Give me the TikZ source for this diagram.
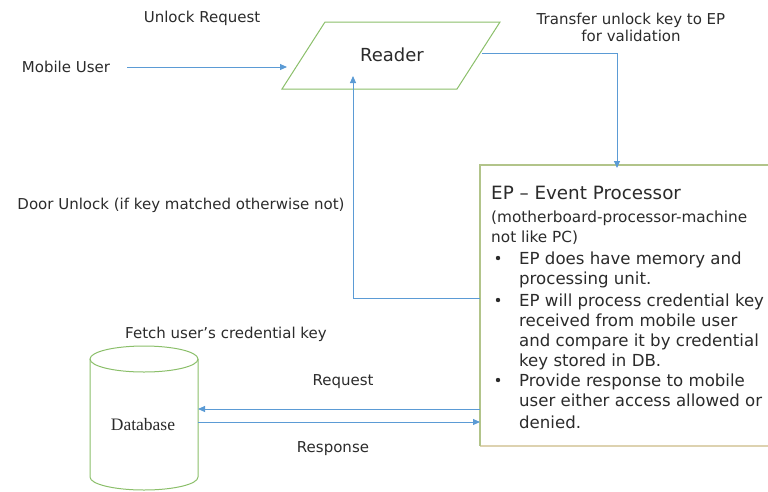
\documentclass[tikz,border=0pt]{standalone}
\usepackage{fontspec}
\setmainfont{DejaVu Sans}
\newfontfamily\dbfont{Liberation Serif}
\usetikzlibrary{arrows.meta,shapes.geometric}
\definecolor{arrblue}{HTML}{5B9BD5}
\definecolor{shgreen}{HTML}{8BBF6A}
\definecolor{boxtan}{HTML}{DDD2B0}
\definecolor{boxolive}{HTML}{B2C48A}
\definecolor{txt}{HTML}{2B2B2B}
\tikzset{
  conn/.style={draw=arrblue, line width=0.9pt, -{Triangle[length=7pt,width=6pt]}},
  lbl/.style={text=txt, font=\fontsize{15}{17}\selectfont, inner sep=0pt},
  eptxt/.style={text=txt, font=\fontsize{16.6}{20}\selectfont, anchor=base west, inner sep=0pt},
}
\begin{document}
\begin{tikzpicture}[x=1pt,y=-1pt]
\useasboundingbox (0,0) rectangle (768,491);
% Reader parallelogram
\draw[shgreen, line width=1pt] (325,22) -- (500,22) -- (457,89) -- (282,89) -- cycle;
\node[text=txt, font=\fontsize{18}{22}\selectfont, inner sep=0pt] (reader) at (392,55) {Reader};
\coordinate (rdLeft) at (287,67);
\coordinate (rdRight) at (482,53);
\coordinate (rdBottom) at (353,89);
% EP box
\fill[white] (480,165) rectangle (768,446);
\draw[boxtan, line width=1.2pt] (480,446) -- (768,446);
\draw[boxolive, line width=1.2pt] (768,165) -- (480,165) -- (480,446);
\coordinate (epTop) at (617,165);
\coordinate (epDoor) at (480,298);
\coordinate (epReq) at (480,409);
\coordinate (epResp) at (480,422);
\node[eptxt, font=\fontsize{18.3}{22}\selectfont] (ep1) at (491,199.5) {EP -- Event Processor};
\node[eptxt, font=\fontsize{15.3}{18}\selectfont] (ep2) at (491,222) {(motherboard-processor-machine};
\node[eptxt, font=\fontsize{15.3}{18}\selectfont] (ep3) at (491,242) {not like PC)};
\foreach \y/\t [count=\i] in {264/EP does have memory and, 284/processing unit., 306/EP will process credential key, 326/received from mobile user, 346/and compare it by credential, 366/key stored in DB., 386/Provide response to mobile, 406/user either access allowed or, 428/denied.}{
  \node[eptxt] (b\i) at (519,\y) {\t};
}
\foreach \y [count=\i] in {258,300,380}{
  \fill[txt] (498,\y) circle (2.2pt);
}
% Database cylinder
\draw[shgreen, line width=1pt, fill=white] (90,359) -- (90,477) arc[start angle=180, end angle=0, x radius=54, y radius=13] -- (198,359);
\draw[shgreen, line width=1pt] (144,359) ellipse[x radius=54, y radius=13];
\node[text=txt, font=\dbfont\fontsize{17.5}{20}\selectfont, inner sep=0pt] (db) at (143,425) {Database};
\coordinate (dbReq) at (198,409);
\coordinate (dbResp) at (198,422);
% Labels
\node[lbl] (mobile) at (66,67) {Mobile User};
\node[lbl] (unlockreq) at (202,18) {Unlock Request};
\node[lbl, align=center] (transfer) at (631,27) {Transfer unlock key to EP\\for validation};
\node[lbl] (door) at (181,205) {Door Unlock (if key matched otherwise not)};
\node[lbl] (fetch) at (226,334) {Fetch user’s credential key};
\node[lbl] (reqlbl) at (343,382) {Request};
\node[lbl] (resplbl) at (333,449) {Response};
\coordinate (mobEnd) at (127,67);
% Connectors
\draw[conn] (mobEnd) -- (rdLeft);
\draw[conn] (rdRight) -| ([yshift=-3pt]epTop);
\draw[conn] (epDoor) -| ([yshift=13pt]rdBottom);
\draw[conn] (epReq) -- (dbReq);
\draw[conn] (dbResp) -- (epResp);
\end{tikzpicture}
\end{document}
